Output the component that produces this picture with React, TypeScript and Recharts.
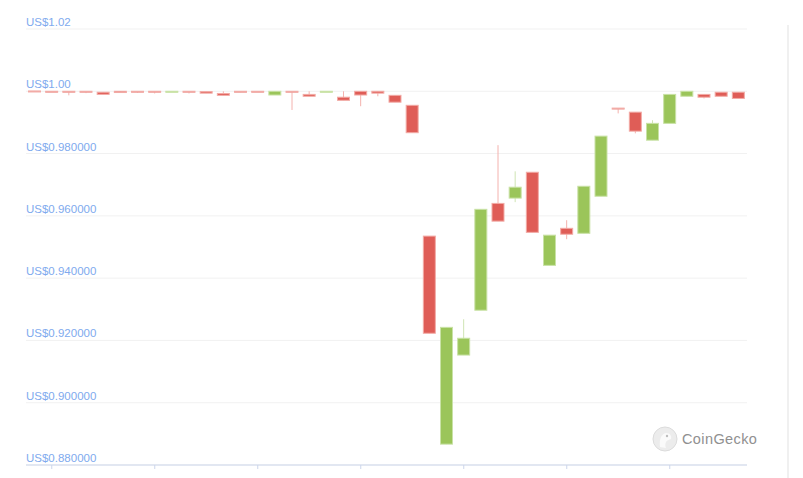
import React from 'react';
import { ComposedChart, Bar, XAxis, YAxis, CartesianGrid } from 'recharts';

// 4h candles over one week
const slots = [
  'D0 20:00',
  'D1 00:00', 'D1 04:00', 'D1 08:00', 'D1 12:00', 'D1 16:00', 'D1 20:00',
  'D2 00:00', 'D2 04:00', 'D2 08:00', 'D2 12:00', 'D2 16:00', 'D2 20:00',
  'D3 00:00', 'D3 04:00', 'D3 08:00', 'D3 12:00', 'D3 16:00', 'D3 20:00',
  'D4 00:00', 'D4 04:00', 'D4 08:00', 'D4 12:00', 'D4 16:00', 'D4 20:00',
  'D5 00:00', 'D5 04:00', 'D5 08:00', 'D5 12:00', 'D5 16:00', 'D5 20:00',
  'D6 00:00', 'D6 04:00', 'D6 08:00', 'D6 12:00', 'D6 16:00', 'D6 20:00',
  'D7 00:00', 'D7 04:00', 'D7 08:00', 'D7 12:00', 'D7 16:00',
];

const opens = [
  1.0001, 1.0000, 1.0000, 1.0000, 0.9997, 1.0000, 1.0000, 1.0000, 0.9999, 1.0000,
  0.9999, 0.9993, 1.0000, 1.0000, 0.9988, 1.0000, 0.9990, 0.9999, 0.9981, 1.0000,
  1.0000, 0.9987, 0.9955, 0.9535, 0.8867, 0.9153, 0.9297, 0.9640, 0.9657, 0.9740,
  0.9441, 0.9560, 0.9544, 0.9663, 0.9946, 0.9933, 0.9843, 0.9897, 0.9984, 0.9990,
  0.9997, 0.9997,
];
const highs = [
  1.0001, 1.0000, 1.0000, 1.0000, 0.9997, 1.0000, 1.0000, 1.0000, 1.0000, 1.0000,
  0.9999, 1.0000, 1.0000, 1.0000, 1.0000, 1.0000, 1.0000, 1.0000, 1.0000, 1.0000,
  1.0000, 0.9987, 0.9955, 0.9535, 0.9242, 0.9268, 0.9621, 0.9827, 0.9743, 0.9740,
  0.9538, 0.9586, 0.9695, 0.9856, 0.9946, 0.9933, 0.9907, 0.9990, 1.0000, 0.9990,
  0.9997, 0.9997,
];
const lows = [
  0.9998, 0.9998, 0.9987, 0.9994, 0.9990, 0.9996, 0.9995, 0.9993, 0.9999, 0.9993,
  0.9994, 0.9987, 0.9997, 0.9998, 0.9988, 0.9940, 0.9984, 0.9999, 0.9971, 0.9952,
  0.9984, 0.9965, 0.9867, 0.9223, 0.8867, 0.9153, 0.9297, 0.9583, 0.9644, 0.9547,
  0.9441, 0.9525, 0.9544, 0.9663, 0.9929, 0.9865, 0.9843, 0.9897, 0.9984, 0.9977,
  0.9984, 0.9977,
];
const closes = [
  0.9999, 0.9999, 0.9999, 0.9999, 0.9990, 0.9996, 0.9999, 0.9999, 1.0000, 0.9999,
  0.9994, 0.9987, 0.9997, 0.9999, 1.0000, 0.9998, 0.9984, 1.0000, 0.9971, 0.9988,
  0.9994, 0.9965, 0.9867, 0.9223, 0.9242, 0.9207, 0.9621, 0.9583, 0.9692, 0.9547,
  0.9538, 0.9541, 0.9695, 0.9856, 0.9945, 0.9872, 0.9897, 0.9990, 1.0000, 0.9981,
  0.9984, 0.9977,
];

const priceTicks = [0.88, 0.9, 0.92, 0.94, 0.96, 0.98, 1.0, 1.02];
const dayTicks = ['D1 00:00', 'D2 00:00', 'D3 00:00', 'D4 00:00', 'D5 00:00', 'D6 00:00', 'D7 00:00'];

const data = slots.map((t, i) => ({
  t,
  open: opens[i],
  high: highs[i],
  low: lows[i],
  close: closes[i],
  range: [lows[i], highs[i]],
}));

const UP = '#9bc55a';
const DOWN = '#df5d57';

const Candle = (props: any) => {
  const { x, y, width, height, payload } = props;
  const { open, close, high, low } = payload;
  const up = close > open;
  const top = Math.min(y, y + height);
  const h = Math.abs(height);
  const span = high - low || 1;
  const yOpen = top + ((high - open) / span) * h;
  const yClose = top + ((high - close) / span) * h;
  const bodyTop = Math.min(yOpen, yClose);
  const bodyH = Math.max(Math.abs(yClose - yOpen), 1);
  const cx = x + width / 2;
  return (
    <g>
      <line x1={cx} x2={cx} y1={top} y2={top + h} stroke={up ? '#cfe4b4' : '#f4b2ae'} strokeWidth={1} />
      <rect
        x={x + 0.5}
        y={bodyTop}
        width={width - 1}
        height={bodyH}
        fill={up ? UP : DOWN}
        stroke={up ? '#c9e2a6' : '#f2aba6'}
        strokeWidth={1}
      />
    </g>
  );
};

const PriceTick = (props: any) => {
  const { y, payload } = props;
  const v = payload.value;
  const label = v >= 1 ? `US$${v.toFixed(2)}` : `US$${v.toFixed(6)}`;
  return (
    <text x={26} y={y - 3} textAnchor="start" fill="#80aaee" fontSize={11.5} fontFamily="'Liberation Sans', Arial, sans-serif">
      {label}
    </text>
  );
};

const App: React.FC = () => {
  return (
    <div style={{ position: 'absolute', left: 0, top: 0, width: 803, height: 478, background: '#fff', overflow: 'hidden' }}>
      <ComposedChart
        width={803}
        height={478}
        data={data}
        margin={{ top: 29, right: 56, left: 25, bottom: 12 }}
        barCategoryGap={2}
      >
        <CartesianGrid horizontal vertical={false} stroke="#f1f1f1" />
        <XAxis
          dataKey="t"
          type="category"
          ticks={dayTicks}
          interval={0}
          height={1}
          axisLine={{ stroke: '#ccd6eb' }}
          tickLine={{ stroke: '#ccd6eb' }}
          tickSize={4}
          tick={() => <g />}
        />
        <YAxis
          domain={[0.88, 1.02]}
          ticks={priceTicks}
          width={1}
          axisLine={false}
          tickLine={false}
          tickSize={0}
          tickMargin={0}
          tick={(p: any) => <PriceTick {...p} />}
          allowDataOverflow
        />
        <Bar dataKey="range" shape={<Candle />} isAnimationActive={false} />
      </ComposedChart>
      <div style={{ position: 'absolute', left: 652, top: 426, display: 'flex', alignItems: 'center', fontFamily: "'Liberation Sans', Arial, sans-serif" }}>
        <svg width={26} height={26}>
          <circle cx={13} cy={13} r={12} fill="#ececec" stroke="#dcdcdc" strokeWidth={1} />
          <path d="M8 21 C7 14 9 8 14 7 C18 7 20 10 19 13 C17 14 15 14 14 16 C13 18 13 20 14 22 Z" fill="#fafafa" />
          <circle cx={15} cy={10} r={1.2} fill="#bdbdbd" />
        </svg>
        <span style={{ marginLeft: 4, fontSize: 14.5, color: '#909090', letterSpacing: 0.4 }}>CoinGecko</span>
      </div>
      <div style={{ position: 'absolute', left: 787, top: 25, width: 2, height: 453, background: '#f0f0f0' }} />
    </div>
  );
};

export default App;
